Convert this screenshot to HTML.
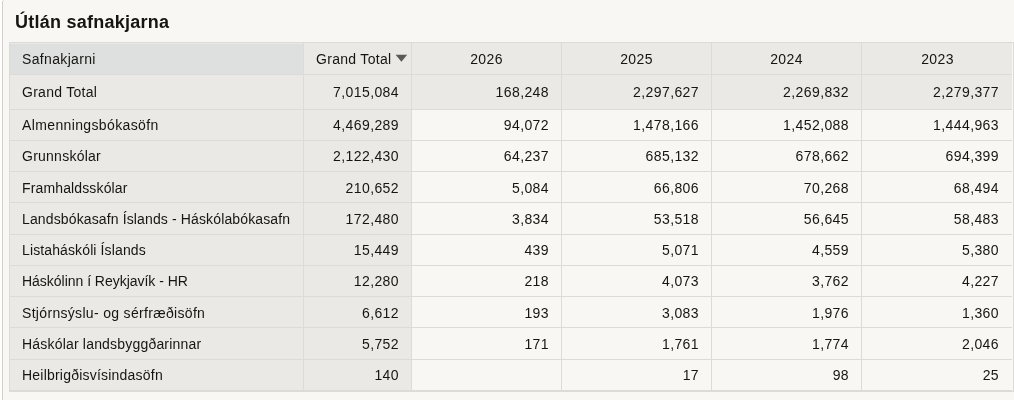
<!DOCTYPE html>
<html><head><meta charset="utf-8">
<style>
html,body{margin:0;padding:0;}
body{width:1014px;height:400px;overflow:hidden;background:#f8f7f3;position:relative;font-family:"Liberation Sans",sans-serif;color:#161513;}
.a{position:absolute;}
.t{will-change:transform;}
.c{position:absolute;font-size:14px;line-height:20px;white-space:nowrap;}
.r{text-align:right;}
.m{text-align:center;}
.n{letter-spacing:0.4px;}
</style></head><body>

<div class="a" style="left:0;top:0;width:2px;height:400px;background:#ffffff"></div>
<div class="a" style="left:3px;top:0;width:1px;height:1px;background:#e4e2de"></div>
<div class="a" style="left:2px;top:1px;width:1px;height:399px;background:#d3d0cc"></div>
<div class="a t" style="left:15px;top:10px;letter-spacing:0.25px;font-size:18px;line-height:24px;font-weight:bold;white-space:nowrap">Útlán safnakjarna</div>
<div class="a" style="left:9px;top:42px;width:1005px;height:350px;background:#dcdbd7"></div>
<div class="a" style="left:10px;top:43px;width:293px;height:31px;background:#dee0e0"></div>
<div class="a" style="left:304px;top:43px;width:107px;height:31px;background:#eae9e5"></div>
<div class="a" style="left:412px;top:43px;width:149px;height:31px;background:#eae9e5"></div>
<div class="a" style="left:562px;top:43px;width:149px;height:31px;background:#eae9e5"></div>
<div class="a" style="left:712px;top:43px;width:149px;height:31px;background:#eae9e5"></div>
<div class="a" style="left:862px;top:43px;width:151px;height:31px;background:#eae9e5"></div>
<div class="a" style="left:10px;top:75px;width:293px;height:34px;background:#eae9e5"></div>
<div class="a" style="left:304px;top:75px;width:107px;height:34px;background:#eae9e5"></div>
<div class="a" style="left:412px;top:75px;width:149px;height:34px;background:#eae9e5"></div>
<div class="a" style="left:562px;top:75px;width:149px;height:34px;background:#eae9e5"></div>
<div class="a" style="left:712px;top:75px;width:149px;height:34px;background:#eae9e5"></div>
<div class="a" style="left:862px;top:75px;width:151px;height:34px;background:#eae9e5"></div>
<div class="a" style="left:10px;top:110px;width:293px;height:30px;background:#eae9e5"></div>
<div class="a" style="left:304px;top:110px;width:107px;height:30px;background:#eae9e5"></div>
<div class="a" style="left:412px;top:110px;width:149px;height:30px;background:#f8f7f3"></div>
<div class="a" style="left:562px;top:110px;width:149px;height:30px;background:#f8f7f3"></div>
<div class="a" style="left:712px;top:110px;width:149px;height:30px;background:#f8f7f3"></div>
<div class="a" style="left:862px;top:110px;width:151px;height:30px;background:#f8f7f3"></div>
<div class="a" style="left:10px;top:141px;width:293px;height:30px;background:#eae9e5"></div>
<div class="a" style="left:304px;top:141px;width:107px;height:30px;background:#eae9e5"></div>
<div class="a" style="left:412px;top:141px;width:149px;height:30px;background:#f8f7f3"></div>
<div class="a" style="left:562px;top:141px;width:149px;height:30px;background:#f8f7f3"></div>
<div class="a" style="left:712px;top:141px;width:149px;height:30px;background:#f8f7f3"></div>
<div class="a" style="left:862px;top:141px;width:151px;height:30px;background:#f8f7f3"></div>
<div class="a" style="left:10px;top:172px;width:293px;height:30px;background:#eae9e5"></div>
<div class="a" style="left:304px;top:172px;width:107px;height:30px;background:#eae9e5"></div>
<div class="a" style="left:412px;top:172px;width:149px;height:30px;background:#f8f7f3"></div>
<div class="a" style="left:562px;top:172px;width:149px;height:30px;background:#f8f7f3"></div>
<div class="a" style="left:712px;top:172px;width:149px;height:30px;background:#f8f7f3"></div>
<div class="a" style="left:862px;top:172px;width:151px;height:30px;background:#f8f7f3"></div>
<div class="a" style="left:10px;top:203px;width:293px;height:31px;background:#eae9e5"></div>
<div class="a" style="left:304px;top:203px;width:107px;height:31px;background:#eae9e5"></div>
<div class="a" style="left:412px;top:203px;width:149px;height:31px;background:#f8f7f3"></div>
<div class="a" style="left:562px;top:203px;width:149px;height:31px;background:#f8f7f3"></div>
<div class="a" style="left:712px;top:203px;width:149px;height:31px;background:#f8f7f3"></div>
<div class="a" style="left:862px;top:203px;width:151px;height:31px;background:#f8f7f3"></div>
<div class="a" style="left:10px;top:235px;width:293px;height:30px;background:#eae9e5"></div>
<div class="a" style="left:304px;top:235px;width:107px;height:30px;background:#eae9e5"></div>
<div class="a" style="left:412px;top:235px;width:149px;height:30px;background:#f8f7f3"></div>
<div class="a" style="left:562px;top:235px;width:149px;height:30px;background:#f8f7f3"></div>
<div class="a" style="left:712px;top:235px;width:149px;height:30px;background:#f8f7f3"></div>
<div class="a" style="left:862px;top:235px;width:151px;height:30px;background:#f8f7f3"></div>
<div class="a" style="left:10px;top:266px;width:293px;height:30px;background:#eae9e5"></div>
<div class="a" style="left:304px;top:266px;width:107px;height:30px;background:#eae9e5"></div>
<div class="a" style="left:412px;top:266px;width:149px;height:30px;background:#f8f7f3"></div>
<div class="a" style="left:562px;top:266px;width:149px;height:30px;background:#f8f7f3"></div>
<div class="a" style="left:712px;top:266px;width:149px;height:30px;background:#f8f7f3"></div>
<div class="a" style="left:862px;top:266px;width:151px;height:30px;background:#f8f7f3"></div>
<div class="a" style="left:10px;top:297px;width:293px;height:30px;background:#eae9e5"></div>
<div class="a" style="left:304px;top:297px;width:107px;height:30px;background:#eae9e5"></div>
<div class="a" style="left:412px;top:297px;width:149px;height:30px;background:#f8f7f3"></div>
<div class="a" style="left:562px;top:297px;width:149px;height:30px;background:#f8f7f3"></div>
<div class="a" style="left:712px;top:297px;width:149px;height:30px;background:#f8f7f3"></div>
<div class="a" style="left:862px;top:297px;width:151px;height:30px;background:#f8f7f3"></div>
<div class="a" style="left:10px;top:328px;width:293px;height:31px;background:#eae9e5"></div>
<div class="a" style="left:304px;top:328px;width:107px;height:31px;background:#eae9e5"></div>
<div class="a" style="left:412px;top:328px;width:149px;height:31px;background:#f8f7f3"></div>
<div class="a" style="left:562px;top:328px;width:149px;height:31px;background:#f8f7f3"></div>
<div class="a" style="left:712px;top:328px;width:149px;height:31px;background:#f8f7f3"></div>
<div class="a" style="left:862px;top:328px;width:151px;height:31px;background:#f8f7f3"></div>
<div class="a" style="left:10px;top:360px;width:293px;height:30px;background:#eae9e5"></div>
<div class="a" style="left:304px;top:360px;width:107px;height:30px;background:#eae9e5"></div>
<div class="a" style="left:412px;top:360px;width:149px;height:30px;background:#f8f7f3"></div>
<div class="a" style="left:562px;top:360px;width:149px;height:30px;background:#f8f7f3"></div>
<div class="a" style="left:712px;top:360px;width:149px;height:30px;background:#f8f7f3"></div>
<div class="a" style="left:862px;top:360px;width:151px;height:30px;background:#f8f7f3"></div>
<div class="a" style="left:10px;top:43px;width:293px;height:1px;background:#eae9e5"></div>
<div class="a" style="left:1012px;top:43px;width:1px;height:348px;background:#f8f7f3"></div>
<div class="t c" style="left:22px;top:48.5px;letter-spacing:0.34px">Safnakjarni</div>
<div class="t c" style="left:316px;top:48.5px;letter-spacing:0.3px">Grand Total</div>
<svg class="a" style="left:395px;top:54px" width="13" height="9" viewBox="0 0 13 9"><path d="M0.6 0.8 L12.2 0.8 L6.4 7.8 Z" fill="#5b5a58"/></svg>
<div class="t c m n" style="left:412px;width:149px;top:48.5px">2026</div>
<div class="t c m n" style="left:562px;width:149px;top:48.5px">2025</div>
<div class="t c m n" style="left:712px;width:149px;top:48.5px">2024</div>
<div class="t c m n" style="left:862px;width:151px;top:48.5px">2023</div>
<div class="t c" style="left:22px;top:82.0px;letter-spacing:0.27px">Grand Total</div>
<div class="t c r n" style="left:304px;width:95px;top:82.0px">7,015,084</div>
<div class="t c r n" style="left:412px;width:137px;top:82.0px">168,248</div>
<div class="t c r n" style="left:562px;width:137px;top:82.0px">2,297,627</div>
<div class="t c r n" style="left:712px;width:137px;top:82.0px">2,269,832</div>
<div class="t c r n" style="left:862px;width:137px;top:82.0px">2,279,377</div>
<div class="t c" style="left:22px;top:115.0px;letter-spacing:0.371px">Almenningsbókasöfn</div>
<div class="t c r n" style="left:304px;width:95px;top:115.0px">4,469,289</div>
<div class="t c r n" style="left:412px;width:137px;top:115.0px">94,072</div>
<div class="t c r n" style="left:562px;width:137px;top:115.0px">1,478,166</div>
<div class="t c r n" style="left:712px;width:137px;top:115.0px">1,452,088</div>
<div class="t c r n" style="left:862px;width:137px;top:115.0px">1,444,963</div>
<div class="t c" style="left:22px;top:146.0px;letter-spacing:0.25px">Grunnskólar</div>
<div class="t c r n" style="left:304px;width:95px;top:146.0px">2,122,430</div>
<div class="t c r n" style="left:412px;width:137px;top:146.0px">64,237</div>
<div class="t c r n" style="left:562px;width:137px;top:146.0px">685,132</div>
<div class="t c r n" style="left:712px;width:137px;top:146.0px">678,662</div>
<div class="t c r n" style="left:862px;width:137px;top:146.0px">694,399</div>
<div class="t c" style="left:22px;top:178.0px;letter-spacing:0.136px">Framhaldsskólar</div>
<div class="t c r n" style="left:304px;width:95px;top:178.0px">210,652</div>
<div class="t c r n" style="left:412px;width:137px;top:178.0px">5,084</div>
<div class="t c r n" style="left:562px;width:137px;top:178.0px">66,806</div>
<div class="t c r n" style="left:712px;width:137px;top:178.0px">70,268</div>
<div class="t c r n" style="left:862px;width:137px;top:178.0px">68,494</div>
<div class="t c" style="left:22px;top:208.5px;letter-spacing:0.132px">Landsbókasafn Íslands - Háskólabókasafn</div>
<div class="t c r n" style="left:304px;width:95px;top:208.5px">172,480</div>
<div class="t c r n" style="left:412px;width:137px;top:208.5px">3,834</div>
<div class="t c r n" style="left:562px;width:137px;top:208.5px">53,518</div>
<div class="t c r n" style="left:712px;width:137px;top:208.5px">56,645</div>
<div class="t c r n" style="left:862px;width:137px;top:208.5px">58,483</div>
<div class="t c" style="left:22px;top:240.0px;letter-spacing:0.121px">Listaháskóli Íslands</div>
<div class="t c r n" style="left:304px;width:95px;top:240.0px">15,449</div>
<div class="t c r n" style="left:412px;width:137px;top:240.0px">439</div>
<div class="t c r n" style="left:562px;width:137px;top:240.0px">5,071</div>
<div class="t c r n" style="left:712px;width:137px;top:240.0px">4,559</div>
<div class="t c r n" style="left:862px;width:137px;top:240.0px">5,380</div>
<div class="t c" style="left:22px;top:271.0px;letter-spacing:-0.024px">Háskólinn í Reykjavík - HR</div>
<div class="t c r n" style="left:304px;width:95px;top:271.0px">12,280</div>
<div class="t c r n" style="left:412px;width:137px;top:271.0px">218</div>
<div class="t c r n" style="left:562px;width:137px;top:271.0px">4,073</div>
<div class="t c r n" style="left:712px;width:137px;top:271.0px">3,762</div>
<div class="t c r n" style="left:862px;width:137px;top:271.0px">4,227</div>
<div class="t c" style="left:22px;top:303.0px;letter-spacing:0.319px">Stjórnsýslu- og sérfræðisöfn</div>
<div class="t c r n" style="left:304px;width:95px;top:303.0px">6,612</div>
<div class="t c r n" style="left:412px;width:137px;top:303.0px">193</div>
<div class="t c r n" style="left:562px;width:137px;top:303.0px">3,083</div>
<div class="t c r n" style="left:712px;width:137px;top:303.0px">1,976</div>
<div class="t c r n" style="left:862px;width:137px;top:303.0px">1,360</div>
<div class="t c" style="left:22px;top:333.5px;letter-spacing:0.192px">Háskólar landsbyggðarinnar</div>
<div class="t c r n" style="left:304px;width:95px;top:333.5px">5,752</div>
<div class="t c r n" style="left:412px;width:137px;top:333.5px">171</div>
<div class="t c r n" style="left:562px;width:137px;top:333.5px">1,761</div>
<div class="t c r n" style="left:712px;width:137px;top:333.5px">1,774</div>
<div class="t c r n" style="left:862px;width:137px;top:333.5px">2,046</div>
<div class="t c" style="left:22px;top:365.0px;letter-spacing:0.214px">Heilbrigðisvísindasöfn</div>
<div class="t c r n" style="left:304px;width:95px;top:365.0px">140</div>
<div class="t c r n" style="left:562px;width:137px;top:365.0px">17</div>
<div class="t c r n" style="left:712px;width:137px;top:365.0px">98</div>
<div class="t c r n" style="left:862px;width:137px;top:365.0px">25</div>
</body></html>
